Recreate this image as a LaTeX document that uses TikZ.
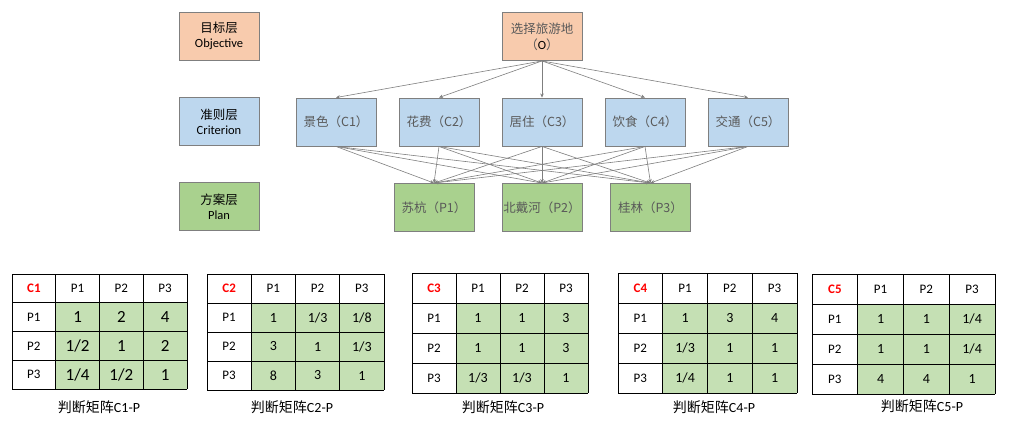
\documentclass[tikz,border=0pt]{standalone}
\usepackage{fontspec}
\setmainfont{Carlito}
\newfontfamily\cjk{Noto Sans CJK SC}
\usetikzlibrary{arrows.meta}

\definecolor{objfill}{HTML}{F8CBAD}
\definecolor{crifill}{HTML}{BDD7EE}
\definecolor{planfill}{HTML}{A9D18E}
\definecolor{cellgreen}{HTML}{C5E0B4}
\definecolor{boxline}{HTML}{7F7F7F}
\definecolor{boxtext}{HTML}{595959}

\tikzset{
  layerbox/.style={draw=boxline, line width=0.9pt, minimum width=80pt, minimum height=48pt,
    inner sep=1pt, align=center, font=\fontsize{12.5}{15}\selectfont},
  itembox/.style={layerbox, text=boxtext, font=\cjk\fontsize{12.5}{16}\selectfont},
  link/.style={draw=boxline, line width=0.6pt, -{Stealth[length=4pt,width=3.5pt]}},
  gridline/.style={black, line width=0.9pt},
  hdr/.style={font=\fontsize{13}{15}\selectfont},
  caption/.style={font=\fontsize{14}{16}\selectfont}
}

% one judgement matrix: top-left x, y, width, height, name, three rows, data size
\newcommand{\judgemat}[9]{%
  \begin{scope}[shift={(#1,#2)}]
    \pgfmathsetmacro\cw{#3/4}
    \pgfmathsetmacro\ch{#4/4}
    \fill[cellgreen] (\cw,\ch) rectangle (#3,#4);
    \foreach \k in {0,...,4} {
      \draw[gridline] ({\k*\cw},0) -- ({\k*\cw},#4);
      \draw[gridline] (0,{\k*\ch}) -- (#3,{\k*\ch});
    }
    \node[text=red, font={\fontsize{13}{15}\selectfont\bfseries}] at ({0.5*\cw},{0.5*\ch}) {#5};
    \foreach \p [count=\k] in {P1,P2,P3} {
      \node[hdr] at ({(\k+0.5)*\cw},{0.5*\ch}) {\p};
      \node[hdr] at ({0.5*\cw},{(\k+0.5)*\ch}) {\p};
    }
    \foreach \v [count=\k] in {#6}
      \node[font=\fontsize{#9}{#9}\selectfont] at ({(\k+0.5)*\cw},{1.5*\ch}) {\v};
    \foreach \v [count=\k] in {#7}
      \node[font=\fontsize{#9}{#9}\selectfont] at ({(\k+0.5)*\cw},{2.5*\ch}) {\v};
    \foreach \v [count=\k] in {#8}
      \node[font=\fontsize{#9}{#9}\selectfont] at ({(\k+0.5)*\cw},{3.5*\ch}) {\v};
  \end{scope}
}

\begin{document}
\begin{tikzpicture}[x=1pt,y=-1pt]
    \useasboundingbox (0,0) rectangle (1032,425);

    % layer labels
    \node[layerbox, fill=objfill] (objlabel) at (219,36) {{\cjk 目标层}\\{\fontsize{12.5}{14}\selectfont Objective}};
    \node[layerbox, fill=crifill] (crilabel) at (219,121.5) {{\cjk 准则层}\\{\fontsize{12.5}{14}\selectfont Criterion}};
    \node[layerbox, fill=planfill] (planlabel) at (219,206.5) {{\cjk 方案层}\\{\fontsize{12.5}{14}\selectfont Plan}};

    % hierarchy
    \node[itembox, fill=objfill] (O) at (542,36.5) {选择旅游地\\（{\rmfamily\color{black}O}）};

    \node[itembox, fill=crifill] (C1) at (336,122) {景色（C1）};
    \node[itembox, fill=crifill] (C2) at (439,122) {花费（C2）};
    \node[itembox, fill=crifill] (C3) at (542,122) {居住（C3）};
    \node[itembox, fill=crifill] (C4) at (645,122) {饮食（C4）};
    \node[itembox, fill=crifill] (C5) at (748,122) {交通（C5）};

    \node[itembox, fill=planfill] (P1) at (434,207.5) {苏杭（P1）};
    \node[itembox, fill=planfill] (P2) at (542,207.5) {北戴河（P2）};
    \node[itembox, fill=planfill] (P3) at (650.5,207.5) {桂林（P3）};

    \foreach \i in {1,...,5} {
      \draw[link] (O.south) -- (C\i.north);
      \foreach \j in {1,2,3}
        \draw[link] (C\i.south) -- (P\j.north);
    }

    % judgement matrices
    \judgemat{12}{274}{175}{115}{C1}{1,2,4}{1/2,1,2}{1/4,1/2,1}{17}
    \judgemat{207}{274}{177}{116}{C2}{1,1/3,1/8}{3,1,1/3}{8,3,1}{14}
    \judgemat{412}{273}{176}{120}{C3}{1,1,3}{1,1,3}{1/3,1/3,1}{14}
    \judgemat{618}{273}{179}{120}{C4}{1,3,4}{1/3,1,1}{1/4,1,1}{14}
    \judgemat{812}{274}{183}{120}{C5}{1,1,1/4}{1,1,1/4}{4,4,1}{14}

    \node[caption] (cap1) at (99,407) {{\cjk 判断矩阵}C1-P};
    \node[caption] (cap2) at (292,407) {{\cjk 判断矩阵}C2-P};
    \node[caption] (cap3) at (503,407) {{\cjk 判断矩阵}C3-P};
    \node[caption] (cap4) at (714,407) {{\cjk 判断矩阵}C4-P};
    \node[caption] (cap5) at (922,406) {{\cjk 判断矩阵}C5-P};
\end{tikzpicture}
\end{document}
